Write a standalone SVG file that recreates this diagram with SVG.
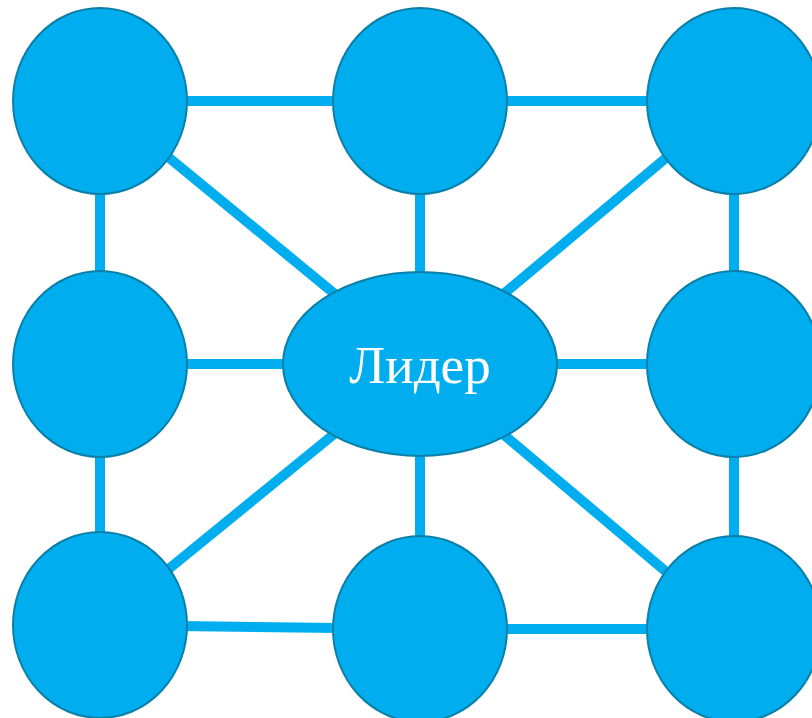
<svg xmlns="http://www.w3.org/2000/svg" width="812" height="718" viewBox="0 0 812 718">
<style>
.edge{stroke:#00AEEF;stroke-width:10;fill:none}
.node{fill:#00AEEF;stroke:#0A7FA8;stroke-width:2}
.lbl{font-family:"Liberation Serif","Times New Roman",serif;font-size:53px;fill:#FFFFFF;text-anchor:middle}
</style>
<rect width="812" height="718" fill="#FFFFFF"/>
<g id="connectors">
<line class="edge" x1="100" y1="101" x2="420" y2="101"/>
<line class="edge" x1="420" y1="101" x2="734" y2="101"/>
<line class="edge" x1="100" y1="101" x2="100" y2="625"/>
<line class="edge" x1="734" y1="101" x2="734" y2="629"/>
<line class="edge" x1="100" y1="101" x2="420" y2="364"/>
<line class="edge" x1="420" y1="101" x2="420" y2="629"/>
<line class="edge" x1="734" y1="101" x2="420" y2="364"/>
<line class="edge" x1="100" y1="364" x2="734" y2="364"/>
<line class="edge" x1="100" y1="625" x2="420" y2="364"/>
<line class="edge" x1="734" y1="629" x2="420" y2="364"/>
<line class="edge" x1="100" y1="625" x2="420" y2="629"/>
<line class="edge" x1="420" y1="629" x2="734" y2="629"/>
</g>
<g id="n-tl"><ellipse class="node" cx="100" cy="101" rx="87" ry="93"/></g>
<g id="n-tm"><ellipse class="node" cx="420" cy="101" rx="87" ry="93"/></g>
<g id="n-tr"><ellipse class="node" cx="734" cy="101" rx="87" ry="93"/></g>
<g id="n-ml"><ellipse class="node" cx="100" cy="364" rx="87" ry="93"/></g>
<g id="n-leader"><ellipse class="node" cx="420" cy="364" rx="137" ry="92"/><text class="lbl" x="420" y="383">Лидер</text></g>
<g id="n-mr"><ellipse class="node" cx="734" cy="364" rx="87" ry="93"/></g>
<g id="n-bl"><ellipse class="node" cx="100" cy="625" rx="87" ry="93"/></g>
<g id="n-bm"><ellipse class="node" cx="420" cy="629" rx="87" ry="93"/></g>
<g id="n-br"><ellipse class="node" cx="734" cy="629" rx="87" ry="93"/></g>
</svg>
